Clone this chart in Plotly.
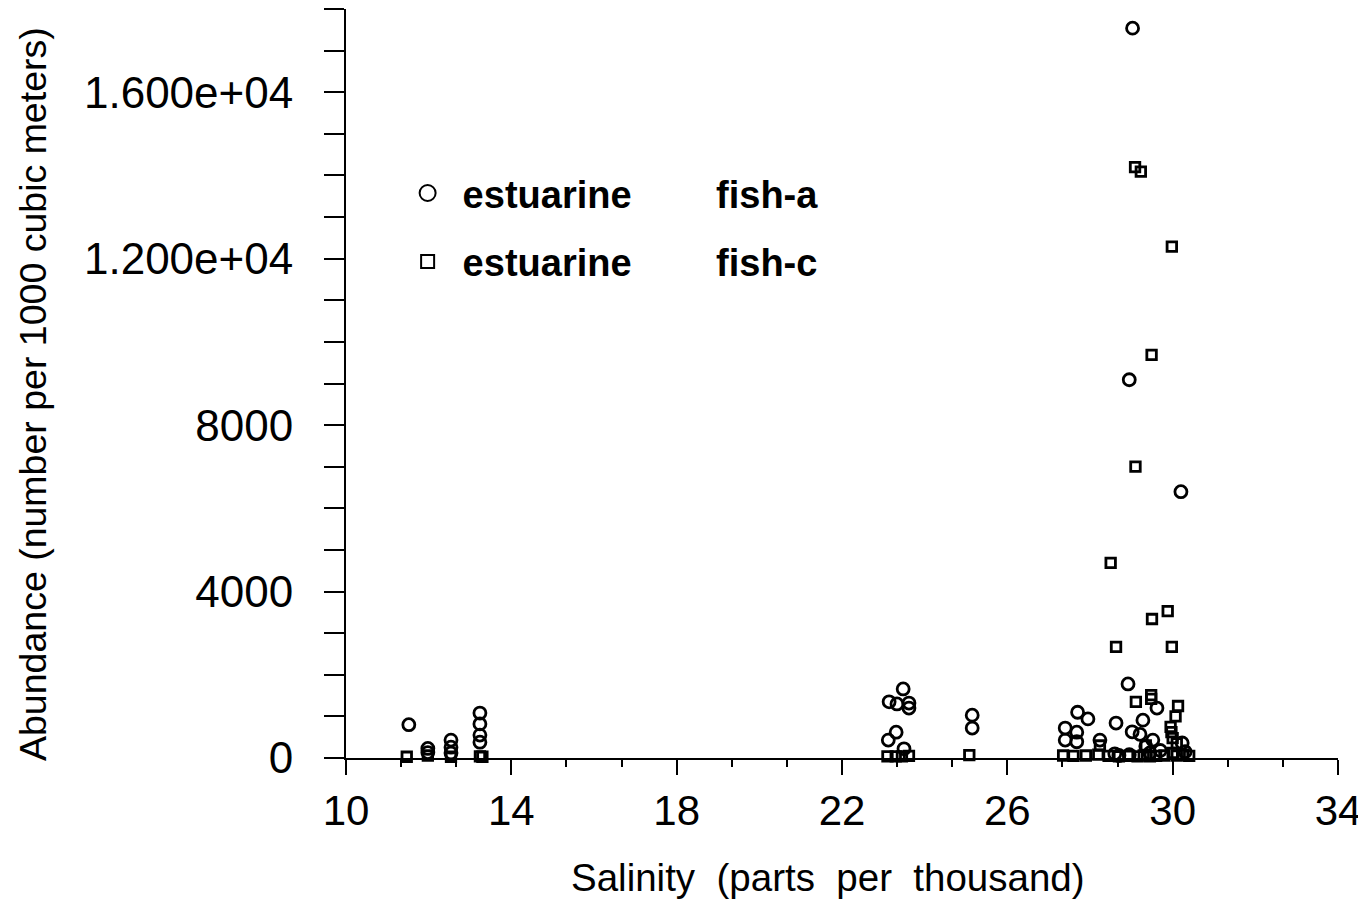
import plotly.graph_objects as go

# ---- data ----
fish_a_salinity = [11.52, 11.98, 11.98, 12.54, 12.54, 12.54, 13.24, 13.24, 13.24, 13.24,
                   23.48, 23.14, 23.33, 23.62, 23.62, 23.12, 23.31, 23.5, 25.15, 25.15,
                   29.03, 28.95, 30.2, 28.92, 29.62, 27.7, 27.95, 28.63, 29.28, 27.4,
                   27.68, 27.4, 27.68, 29.02, 29.21, 29.52, 28.24, 30.23, 29.35, 28.6,
                   28.7, 29.45, 29.7, 30.3, 28.95]
fish_a_abundance = [800, 230, 130, 430, 260, 120, 1080, 820, 550, 380,
                    1660, 1350, 1300, 1320, 1200, 430, 620, 220, 1030, 720,
                    17540, 9090, 6400, 1780, 1200, 1100, 940, 840, 910, 720,
                    620, 430, 390, 630, 570, 430, 430, 360, 280, 100,
                    60, 120, 180, 150, 80]

fish_c_salinity = [11.47, 11.98, 12.54, 13.24, 13.3,
                   23.1, 23.3, 23.45, 23.62, 25.08,
                   29.09, 29.23, 29.98, 29.49, 29.1, 28.5, 29.88, 29.5, 28.63, 29.98,
                   29.11, 29.48, 29.48, 30.13, 30.07, 29.95, 29.97, 30.0, 28.24, 29.35, 30.1,
                   27.35, 27.6, 27.9, 28.2, 28.45, 28.7, 28.95, 29.15, 29.3, 29.45,
                   29.6, 29.8, 30.0, 30.1, 30.25, 30.4]
fish_c_abundance = [30, 60, 30, 40, 30,
                    40, 40, 40, 50, 70,
                    14200, 14090, 12290, 9690, 7000, 4690, 3530, 3340, 2670, 2670,
                    1350, 1510, 1420, 1250, 1000, 750, 620, 480, 300, 300, 350,
                    60, 50, 60, 80, 50, 40, 50, 40, 60, 40,
                    50, 60, 120, 60, 80, 50]

NB = "\u00a0"
series_names = ["estuarine" + NB * 8 + "fish-a",
                "estuarine" + NB * 8 + "fish-c"]

x_tickvals = [10, 14, 18, 22, 26, 30, 34]
y_tickvals = [0, 4000, 8000, 12000, 16000]
y_ticktext = ["0", "4000", "8000", "1.200e+04", "1.600e+04"]

x_title = "Salinity" + NB * 2 + "(parts" + NB * 2 + "per" + NB * 2 + "thousand)"
y_title = "Abundance (number per 1000 cubic meters)"

FONT = "Liberation Sans, Arial, Helvetica, sans-serif"

fig = go.Figure()
# data traces
fig.add_trace(go.Scatter(
    x=fish_a_salinity, y=fish_a_abundance, mode="markers", name=series_names[0],
    legendgroup="a", showlegend=False, cliponaxis=False,
    marker=dict(symbol="circle-open", size=12, color="black", line=dict(width=2.8, color="black")),
))
fig.add_trace(go.Scatter(
    x=fish_c_salinity, y=fish_c_abundance, mode="markers", name=series_names[1],
    legendgroup="c", showlegend=False, cliponaxis=False,
    marker=dict(symbol="square-open", size=9.5, color="black", line=dict(width=2.8, color="black")),
))
# legend entries (larger, thinner symbols as in the reference key)
fig.add_trace(go.Scatter(
    x=[None], y=[None], mode="markers", name=series_names[0], legendgroup="a",
    marker=dict(symbol="circle-open", size=16, color="black", line=dict(width=2, color="black")),
))
fig.add_trace(go.Scatter(
    x=[None], y=[None], mode="markers", name=series_names[1], legendgroup="c",
    marker=dict(symbol="square-open", size=13, color="black", line=dict(width=2, color="black")),
))

# page body has an 8px margin, so the figure is drawn 8px in from the corner
fig.update_layout(
    width=1358, height=896,
    paper_bgcolor="white", plot_bgcolor="white",
    margin=dict(l=338, r=28, t=1, b=146),
    font=dict(family=FONT, color="black"),
    showlegend=True,
    legend=dict(x=0.047, y=0.796, xanchor="left", yanchor="top",
                font=dict(family=FONT, size=38, color="black", weight="bold"),
                tracegroupgap=16, itemwidth=60, bgcolor="rgba(0,0,0,0)"),
    xaxis=dict(
        range=[10, 34], tickvals=x_tickvals, ticks="outside", ticklen=15, tickwidth=2,
        tickcolor="black", showline=True, linewidth=2, linecolor="black",
        showgrid=False, zeroline=False, tickfont=dict(size=42, family=FONT),
        minor=dict(tick0=10, dtick=4 / 3, ticks="outside", ticklen=7, tickwidth=1.5,
                   tickcolor="black", showgrid=False),
    ),
    yaxis=dict(
        range=[0, 18000], tickvals=y_tickvals, ticktext=y_ticktext, ticks="outside",
        ticklen=20, tickwidth=2, tickcolor="black", showline=True, linewidth=2,
        linecolor="black", showgrid=False, zeroline=False,
        tickfont=dict(size=44, family=FONT), ticklabelstandoff=22,
        minor=dict(tick0=0, dtick=1000, ticks="outside", ticklen=20, tickwidth=1.5,
                   tickcolor="black", showgrid=False),
    ),
    annotations=[
        dict(text=x_title, xref="paper", yref="paper", x=0.486, y=-0.159,
             xanchor="center", yanchor="middle", showarrow=False,
             font=dict(size=38.5, family=FONT, color="black")),
        dict(text=y_title, xref="paper", yref="paper", x=-0.3155, y=0.486,
             xanchor="center", yanchor="middle", showarrow=False, textangle=-90,
             font=dict(size=37.5, family=FONT, color="black")),
    ],
)

fig.write_html("out.html")
